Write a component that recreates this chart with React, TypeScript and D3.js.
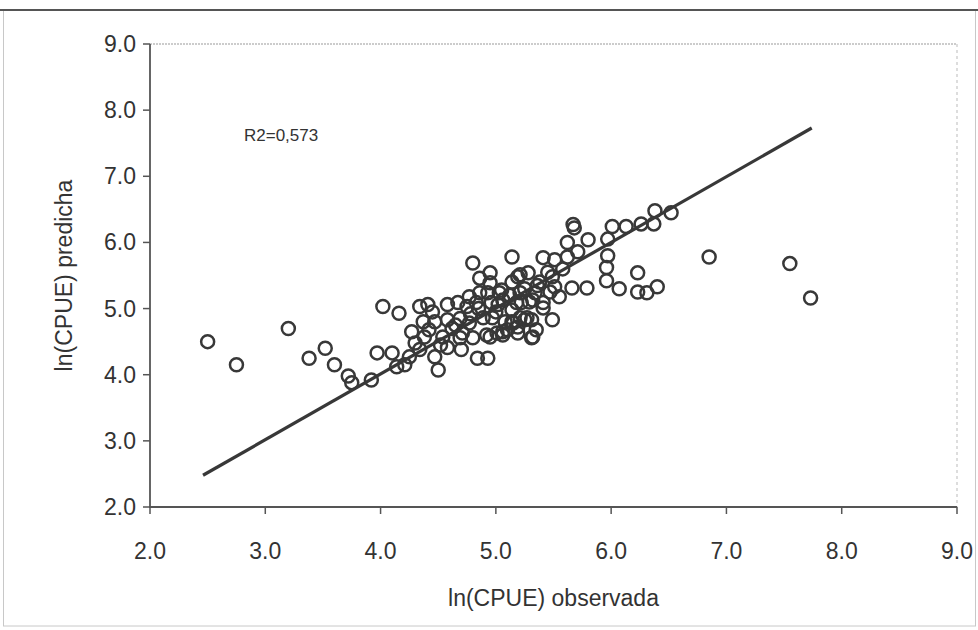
import React from "react";
import * as d3 from "d3";

const xTicks = [2, 3, 4, 5, 6, 7, 8, 9];
const yTicks = [2, 3, 4, 5, 6, 7, 8, 9];
const xTitle = "ln(CPUE) observada";
const yTitle = "ln(CPUE) predicha";
const r2Label = "R2=0,573";

const obsX = [
  2.5, 2.75, 3.2, 3.38, 3.52, 3.6, 3.72, 3.75, 3.92,
  4.02, 4.16, 4.34, 4.41, 4.58, 4.75, 4.83, 4.93, 5.03,
  4.37, 4.47, 4.58, 4.77, 4.89, 5.02, 5.08, 5.18, 5.27,
  4.27, 4.38, 4.54, 4.69, 4.8, 4.95, 5.06, 5.19, 5.32,
  3.97, 4.1, 4.25, 4.34, 4.47, 4.58, 4.7, 4.84, 4.93,
  4.14, 4.21, 4.5,
  4.8, 5.14, 5.41, 5.51, 4.86, 4.95, 4.95, 5.14, 5.21, 5.28, 5.38, 5.49, 5.21, 5.34, 5.47,
  4.77, 4.86, 4.67, 4.96, 5.06, 5.29, 5.41, 5.49, 4.69, 4.97, 5.14, 5.25, 5.35, 5.31,
  4.71, 4.92, 5.01, 5.1, 5.19,
  5.67, 6.01, 6.13, 6.26, 5.62, 5.8, 5.97, 5.97, 5.96, 5.96, 6.07, 6.23, 6.23, 6.31,
  5.71, 5.62, 5.58, 5.19, 5.05, 5.79, 5.66, 5.55, 5.51, 5.32, 5.22, 5.14, 5.41, 5.31,
  5.21, 5.06, 5.15,
  4.45, 4.62, 4.85, 5.0, 5.12, 5.25, 5.45, 4.52, 4.3, 4.65, 4.42, 5.36, 4.78, 5.68,
  6.38, 6.52, 6.37, 6.4, 6.85,
  7.55, 7.73,
];
const predY = [
  4.5, 4.15, 4.7, 4.25, 4.4, 4.15, 3.98, 3.88, 3.92,
  5.03, 4.93, 5.03, 5.06, 5.06, 5.03, 5.09, 5.24, 5.24,
  4.8, 4.8, 4.83, 4.78, 4.86, 5.06, 4.8, 5.09, 4.86,
  4.65, 4.57, 4.57, 4.56, 4.56, 4.57, 4.6, 4.63, 4.57,
  4.33, 4.33, 4.27, 4.38, 4.27, 4.41, 4.38, 4.25, 4.25,
  4.12, 4.15, 4.07,
  5.69, 5.78, 5.77, 5.74, 5.46, 5.54, 5.39, 5.4, 5.51, 5.54, 5.4, 5.48, 5.24, 5.24, 5.25,
  5.18, 5.24, 5.09, 5.09, 5.13, 5.1, 5.09, 4.83, 4.85, 4.86, 4.8, 4.83, 4.68, 4.56,
  4.63, 4.6, 4.63, 4.68, 4.72,
  6.27, 6.24, 6.24, 6.28, 6.0, 6.04, 6.05, 5.8, 5.62, 5.42, 5.3, 5.54, 5.25, 5.24,
  5.86, 5.78, 5.6, 5.48, 5.28, 5.31, 5.31, 5.18, 5.33, 5.13, 5.09, 4.98, 5.01, 4.83,
  4.86, 4.65, 4.78,
  4.95, 4.7, 5.0, 4.95, 5.2, 5.3, 5.55, 4.45, 4.48, 4.75, 4.68, 5.35, 4.92, 6.22,
  6.48, 6.45, 6.28, 5.33, 5.78,
  5.68, 5.16,
];
const fitX = [2.46, 7.74];
const fitY = [2.48, 7.73];

const W = 978;
const H = 630;
const left = 150;
const right = 957;
const top = 44;
const bottom = 507;
const FONT = "'Liberation Sans', Arial, sans-serif";
const INK = "#383838";

export default function App() {
  const x = d3.scaleLinear().domain([2, 9]).range([left, right]);
  const y = d3.scaleLinear().domain([2, 9]).range([bottom, top]);
  const line = d3
    .line<number>()
    .x((d) => x(fitX[d]))
    .y((d) => y(fitY[d]));
  const pts = obsX.map((v, i) => [v, predY[i]]);

  return (
    <svg
      width={W}
      height={H}
      style={{ position: "absolute", left: 0, top: 0, background: "#fff" }}
    >
      <rect x={0} y={0} width={W} height={H} fill="#fff" />
      {/* outer frame */}
      <rect x={3.5} y={10} width={972} height={616} fill="none" stroke="#c8c8c8" strokeWidth={1} />
      <line x1={0} x2={W} y1={10} y2={10} stroke="#555" strokeWidth={2} />

      {/* plot box (top/right dotted) */}
      <line x1={left} x2={right} y1={top} y2={top} stroke="#999" strokeWidth={1} strokeDasharray="2,1" />
      <line x1={right} x2={right} y1={top} y2={bottom} stroke="#bbb" strokeWidth={1} strokeDasharray="3,3" />

      {/* axes */}
      <line x1={left} x2={left} y1={top} y2={bottom + 1} stroke="#555" strokeWidth={1.8} />
      <line x1={left - 1} x2={right} y1={bottom} y2={bottom} stroke="#555" strokeWidth={1.8} />

      {yTicks.map((t) => (
        <g key={"y" + t}>
          <line x1={left - 7} x2={left} y1={y(t)} y2={y(t)} stroke="#555" strokeWidth={1.5} />
          <text
            x={136}
            y={y(t)}
            textAnchor="end"
            dominantBaseline="central"
            fontFamily={FONT}
            fontSize={23}
            fill="#333"
          >
            {d3.format(".1f")(t)}
          </text>
        </g>
      ))}
      {xTicks.map((t) => (
        <g key={"x" + t}>
          <line x1={x(t)} x2={x(t)} y1={bottom} y2={bottom + 7} stroke="#555" strokeWidth={1.5} />
          <text
            x={x(t)}
            y={551}
            textAnchor="middle"
            dominantBaseline="central"
            fontFamily={FONT}
            fontSize={23}
            fill="#333"
          >
            {d3.format(".1f")(t)}
          </text>
        </g>
      ))}

      <text
        x={(left + right) / 2}
        y={598}
        textAnchor="middle"
        dominantBaseline="central"
        fontFamily={FONT}
        fontSize={23}
        fill="#333"
      >
        {xTitle}
      </text>
      <text
        transform={`translate(64,${(top + bottom) / 2}) rotate(-90)`}
        textAnchor="middle"
        dominantBaseline="central"
        fontFamily={FONT}
        fontSize={23}
        fill="#333"
      >
        {yTitle}
      </text>
      <text
        x={244}
        y={135}
        dominantBaseline="central"
        fontFamily={FONT}
        fontSize={17}
        fill="#333"
      >
        {r2Label}
      </text>

      {/* points */}
      {pts.map(([a, b], i) => (
        <circle
          key={i}
          cx={x(a)}
          cy={y(b)}
          r={6.5}
          fill="none"
          stroke={INK}
          strokeWidth={2.5}
        />
      ))}

      {/* fitted line */}
      <path d={line([0, 1]) || ""} fill="none" stroke={INK} strokeWidth={3.2} />
    </svg>
  );
}
